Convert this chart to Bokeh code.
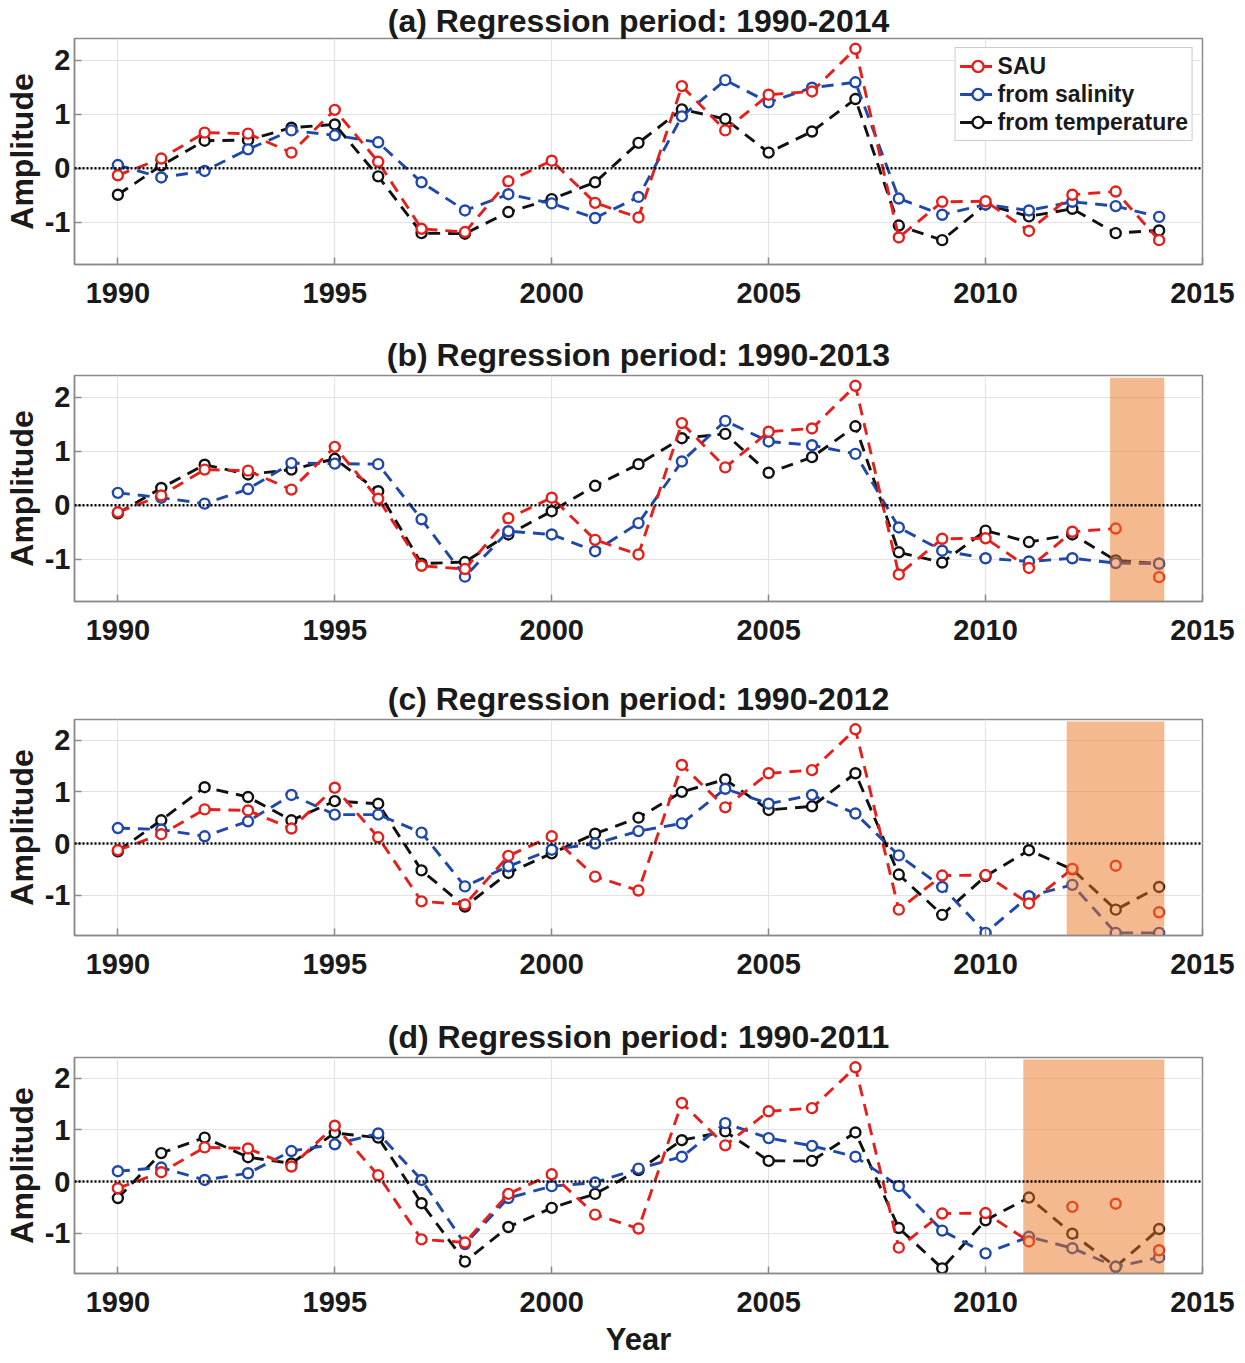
from bokeh.plotting import figure
from bokeh.models import Range1d, FixedTicker, Span, Legend, LegendItem
from bokeh.layouts import column
from bokeh.embed import file_html
from bokeh.resources import INLINE

years = list(range(1990, 2015))

sau = [-0.13, 0.18, 0.66, 0.64, 0.29, 1.08, 0.12, -1.12, -1.18, -0.24, 0.14, -0.64, -0.91,
       1.52, 0.70, 1.36, 1.42, 2.21, -1.28, -0.62, -0.61, -1.16, -0.49, -0.43, -1.33]

sal_a = [0.06, -0.17, -0.05, 0.35, 0.70, 0.61, 0.48, -0.26, -0.78, -0.48, -0.65, -0.92, -0.53,
         0.96, 1.63, 1.22, 1.49, 1.59, -0.56, -0.86, -0.67, -0.78, -0.62, -0.70, -0.90]
tmp_a = [-0.49, 0.05, 0.51, 0.52, 0.75, 0.81, -0.15, -1.20, -1.21, -0.81, -0.57, -0.26, 0.47,
         1.09, 0.91, 0.29, 0.68, 1.28, -1.06, -1.33, -0.67, -0.89, -0.75, -1.20, -1.15]

sal_b = [0.23, 0.14, 0.03, 0.30, 0.78, 0.77, 0.76, -0.26, -1.32, -0.48, -0.54, -0.85, -0.33,
         0.81, 1.56, 1.18, 1.11, 0.95, -0.41, -0.84, -0.98, -1.04, -0.98, -1.07, -1.08]
tmp_b = [-0.15, 0.32, 0.75, 0.57, 0.66, 0.86, 0.26, -1.08, -1.05, -0.54, -0.11, 0.36, 0.76,
         1.24, 1.32, 0.60, 0.89, 1.46, -0.87, -1.06, -0.47, -0.68, -0.54, -1.02, -1.08]

sal_c = [0.30, 0.27, 0.14, 0.43, 0.94, 0.56, 0.56, 0.21, -0.83, -0.44, -0.12, 0.00, 0.24,
         0.39, 1.06, 0.77, 0.94, 0.58, -0.23, -0.84, -1.73, -1.02, -0.80, -1.73, -1.73]
tmp_c = [-0.15, 0.45, 1.09, 0.90, 0.45, 0.82, 0.77, -0.52, -1.22, -0.57, -0.19, 0.19, 0.50,
         1.00, 1.24, 0.65, 0.72, 1.36, -0.60, -1.38, -0.63, -0.13, -0.50, -1.28, -0.84]

sal_d = [0.20, 0.27, 0.03, 0.16, 0.59, 0.72, 0.93, 0.03, -1.21, -0.32, -0.09, -0.02, 0.25,
         0.48, 1.13, 0.84, 0.69, 0.48, -0.09, -0.95, -1.39, -1.07, -1.29, -1.65, -1.47]
tmp_d = [-0.32, 0.55, 0.85, 0.47, 0.35, 0.94, 0.85, -0.42, -1.55, -0.88, -0.51, -0.24, 0.22,
         0.80, 0.97, 0.40, 0.40, 0.95, -0.90, -1.68, -0.75, -0.31, -1.01, -1.65, -0.92]

panel_tags = ["(a)", "(b)", "(c)", "(d)"]
end_years = [2014, 2013, 2012, 2011]
x_ticks = [1990, 1995, 2000, 2005, 2010, 2015]
x_tick_labels = ["1990", "1995", "2000", "2005", "2010", "2015"]
y_ticks = [-1, 0, 1, 2]
y_tick_labels = ["-1", "0", "1", "2"]
series_names = ["SAU", "from salinity", "from temperature"]

RED = "#E5201C"
BLUE = "#1F48A8"
BLACK = "#111111"
SHADE = "#E9731D"
FONT = "Liberation Sans"
FW = 1128


def make_panel(i, sal, tmp, top, fh, bottom, tstand, xlab_standoff, last):
    end_year = end_years[i]
    p = figure(frame_width=FW, frame_height=fh,
               x_range=Range1d(1989, 2015), y_range=Range1d(-1.78, 2.40),
               output_backend="svg", toolbar_location=None,
               min_border_left=66, min_border_right=33,
               min_border_top=top, min_border_bottom=bottom,
               title=f"{panel_tags[i]} Regression period: 1990-{end_year}")
    p.background_fill_color = "white"
    p.border_fill_color = "white"
    p.outline_line_color = "#8a8a8a"
    p.outline_line_width = 1.5

    p.title.align = "center"
    p.title.text_font = FONT
    p.title.text_font_size = "32px"
    p.title.text_font_style = "bold"
    p.title.text_color = "#1a1a1a"
    p.title.standoff = tstand

    p.xgrid.grid_line_color = "#e3e3e3"
    p.ygrid.grid_line_color = "#e3e3e3"
    p.xgrid.grid_line_width = 1.2
    p.ygrid.grid_line_width = 1.2

    p.xaxis.ticker = FixedTicker(ticks=x_ticks)
    p.yaxis.ticker = FixedTicker(ticks=y_ticks)
    p.xaxis.major_label_overrides = {t: l for t, l in zip(x_ticks, x_tick_labels)}
    p.yaxis.major_label_overrides = {t: l for t, l in zip(y_ticks, y_tick_labels)}
    for ax in (p.xaxis[0], p.yaxis[0]):
        ax.major_label_text_font = FONT
        ax.major_label_text_font_size = "29px"
        ax.major_label_text_font_style = "bold"
        ax.major_label_text_color = "#1a1a1a"
        ax.axis_line_color = "#8a8a8a"
        ax.axis_line_width = 1.5
        ax.major_tick_line_color = "#8a8a8a"
        ax.major_tick_line_width = 1.5
        ax.major_tick_in = 7
        ax.major_tick_out = 0
        ax.minor_tick_line_color = None
        ax.axis_label_text_font = FONT
        ax.axis_label_text_font_style = "bold"
        ax.axis_label_text_color = "#1a1a1a"
    p.yaxis.major_label_standoff = 4
    p.yaxis.axis_label = "Amplitude"
    p.yaxis.axis_label_text_font_size = "32px"
    p.yaxis.axis_label_standoff = 2
    p.xaxis.major_label_standoff = xlab_standoff
    if last:
        p.xaxis.axis_label = "Year"
        p.xaxis.axis_label_text_font_size = "31px"
        p.xaxis.axis_label_standoff = 7

    p.add_layout(Span(location=0, dimension="width", line_color="black",
                      line_dash="2 2", line_width=2.5))

    dash = "12 8"
    lw = 2.9
    ms = 10
    mlw = 2.4
    lt = p.line(years, tmp, line_color=BLACK, line_width=lw, line_dash=dash)
    st = p.scatter(years, tmp, marker="circle", size=ms, line_color=BLACK,
                   line_width=mlw, fill_color="white")
    lb = p.line(years, sal, line_color=BLUE, line_width=lw, line_dash=dash)
    sb = p.scatter(years, sal, marker="circle", size=ms, line_color=BLUE,
                   line_width=mlw, fill_color="white")
    n = end_year - years[0] + 1
    lr = p.line(years[:n], sau[:n], line_color=RED, line_width=lw, line_dash=dash)
    sr = p.scatter(years, sau, marker="circle", size=ms, line_color=RED,
                   line_width=mlw, fill_color="white")

    if end_year < years[-1]:
        p.quad(left=[end_year - 0.13], right=[years[-1] + 0.12],
               bottom=[-1.78], top=[2.36], fill_color=SHADE, fill_alpha=0.5,
               line_color=None)

    if i == 0:
        legend = Legend(items=[
            LegendItem(label=series_names[0], renderers=[lr, sr]),
            LegendItem(label=series_names[1], renderers=[lb, sb]),
            LegendItem(label=series_names[2], renderers=[lt, st]),
        ], location="top_right")
        legend.margin = 9
        legend.padding = 4
        legend.spacing = 0
        legend.label_height = 28
        legend.glyph_height = 28
        legend.glyph_width = 36
        legend.label_standoff = 2
        legend.label_text_font = FONT
        legend.label_text_font_size = "23px"
        legend.label_text_font_style = "bold"
        legend.label_text_color = "#1a1a1a"
        legend.border_line_color = "#9a9a9a"
        legend.border_line_width = 1.2
        legend.background_fill_color = "white"
        legend.background_fill_alpha = 1.0
        p.add_layout(legend)
    return p


pa = make_panel(0, sal_a, tmp_a, top=33, fh=226, bottom=60, tstand=0, xlab_standoff=18, last=False)
pb = make_panel(1, sal_b, tmp_b, top=51, fh=226, bottom=60, tstand=6, xlab_standoff=18, last=False)
pc = make_panel(2, sal_c, tmp_c, top=58, fh=216, bottom=60, tstand=6, xlab_standoff=18, last=False)
pd = make_panel(3, sal_d, tmp_d, top=62, fh=216, bottom=79, tstand=6, xlab_standoff=18, last=True)

layout = column(pa, pb, pc, pd, spacing=0)
open("out.html", "w").write(file_html(layout, INLINE))
